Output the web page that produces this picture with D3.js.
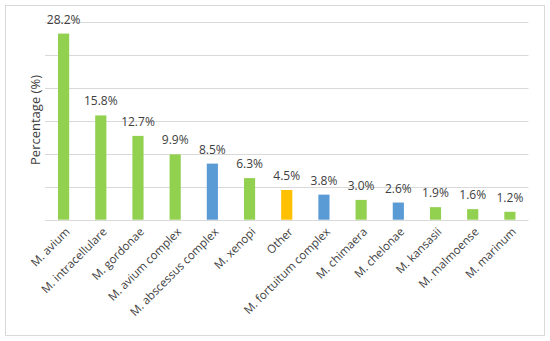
<!DOCTYPE html>
<html>
<head>
<meta charset="utf-8">
<title>species</title>
<style>
  body { margin: 0; background: #fff; }
  svg text { font-family: "Open Sans", "Liberation Sans", sans-serif; fill: #404040; }
</style>
</head>
<body>
<svg id="chart" width="550" height="341"></svg>
<script src="https://cdn.jsdelivr.net/npm/d3@7"></script>
<script>
var species = ["M. avium", "M. intracellulare", "M. gordonae", "M. avium complex", "M. abscessus complex",
  "M. xenopi", "Other", "M. fortuitum complex", "M. chimaera", "M. chelonae", "M. kansasii",
  "M. malmoense", "M. marinum"];
var percent = [28.2, 15.8, 12.7, 9.9, 8.5, 6.3, 4.5, 3.8, 3.0, 2.6, 1.9, 1.6, 1.2];
var group = ["slow", "slow", "slow", "slow", "rapid", "slow", "other", "rapid", "slow", "rapid", "slow", "slow", "slow"];
var yTicks = [0, 5, 10, 15, 20, 25, 30];

var colors = { slow: "#92d050", rapid: "#5b9bd5", other: "#ffc000" };

var svg = d3.select("#chart");

svg.append("rect")
  .attr("x", 5.5).attr("y", 5.5)
  .attr("width", 539).attr("height", 330)
  .attr("fill", "#fff").attr("stroke", "#d9d9d9");

var x = d3.scaleBand().domain(species).range([45, 528.5])
  .paddingInner(0.7).paddingOuter(0.35);
var y = d3.scaleLinear().domain([0, 30]).range([219.7, 21.7]);

// gridlines
svg.append("g").selectAll("line")
  .data(yTicks)
  .enter().append("line")
  .attr("x1", 45).attr("x2", 528.5)
  .attr("y1", function(d) { return Math.round(y(d)) + 0.5; })
  .attr("y2", function(d) { return Math.round(y(d)) + 0.5; })
  .attr("stroke", "#d9d9d9").attr("stroke-width", 1);

// bars
svg.append("g").selectAll("rect")
  .data(species)
  .enter().append("rect")
  .attr("x", function(d) { return x(d); })
  .attr("width", x.bandwidth())
  .attr("y", function(d, i) { return y(percent[i]); })
  .attr("height", function(d, i) { return y(0) - y(percent[i]); })
  .attr("fill", function(d, i) { return colors[group[i]]; });

// value labels
svg.append("g").selectAll("text")
  .data(species)
  .enter().append("text")
  .attr("x", function(d) { return x(d) + x.bandwidth() / 2; })
  .attr("y", function(d, i) { return y(percent[i]) - 10; })
  .attr("text-anchor", "middle")
  .attr("font-size", 12)
  .text(function(d, i) { return percent[i].toFixed(1) + "%"; });

// category labels
svg.append("g").selectAll("text")
  .data(species)
  .enter().append("text")
  .attr("transform", function(d) {
    return "translate(" + (x(d) + x.bandwidth() / 2 + 4) + "," + (y(0) + 10) + ") rotate(-45)";
  })
  .attr("text-anchor", "end")
  .attr("dy", "0.35em")
  .attr("font-size", 11.5)
  .text(function(d) { return d; });

// y axis title
svg.append("text")
  .attr("transform", "translate(40,120) rotate(-90)")
  .attr("text-anchor", "middle")
  .attr("font-size", 13)
  .text("Percentage (%)");
</script>
</body>
</html>
